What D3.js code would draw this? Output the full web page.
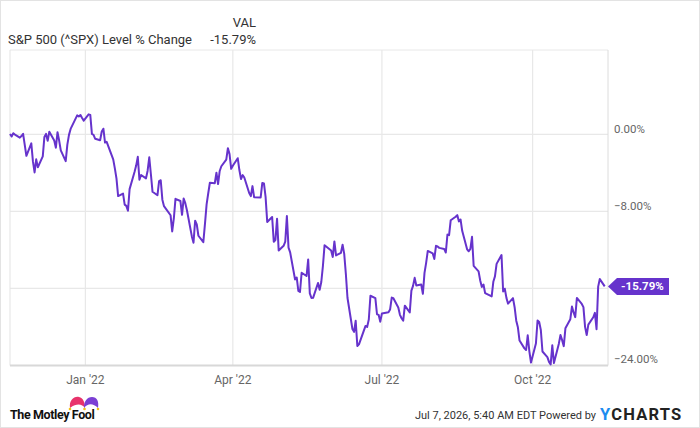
<!DOCTYPE html>
<html>
<head>
<meta charset="utf-8">
<script src="https://cdn.jsdelivr.net/npm/d3@7"></script>
<style>
  body { margin: 0; background: #fff; }
  svg { display: block; font-family: Roboto, "Noto Sans", sans-serif; }
</style>
</head>
<body>
<div id="chart"></div>
<script>
// S&P 500 level % change, trading days Nov 2021 - Nov 2022
const dates = [
  "2021-11-16","2021-11-17","2021-11-18","2021-11-19","2021-11-22","2021-11-23","2021-11-24","2021-11-26","2021-11-29","2021-11-30",
  "2021-12-01","2021-12-02","2021-12-03","2021-12-06","2021-12-07","2021-12-08","2021-12-09","2021-12-10","2021-12-13","2021-12-14",
  "2021-12-15","2021-12-16","2021-12-17","2021-12-20","2021-12-21","2021-12-22","2021-12-23","2021-12-27","2021-12-28","2021-12-29",
  "2021-12-30","2021-12-31",
  "2022-01-03","2022-01-04","2022-01-05","2022-01-06","2022-01-07","2022-01-10","2022-01-11","2022-01-12","2022-01-13","2022-01-14",
  "2022-01-18","2022-01-19","2022-01-20","2022-01-21","2022-01-24","2022-01-25","2022-01-26","2022-01-27","2022-01-28","2022-01-31",
  "2022-02-01","2022-02-02","2022-02-03","2022-02-04","2022-02-07","2022-02-08","2022-02-09","2022-02-10","2022-02-11","2022-02-14",
  "2022-02-15","2022-02-16","2022-02-17","2022-02-18","2022-02-22","2022-02-23","2022-02-24","2022-02-25","2022-02-28",
  "2022-03-01","2022-03-02","2022-03-03","2022-03-04","2022-03-07","2022-03-08","2022-03-09","2022-03-10","2022-03-11","2022-03-14",
  "2022-03-15","2022-03-16","2022-03-17","2022-03-18","2022-03-21","2022-03-22","2022-03-23","2022-03-24","2022-03-25","2022-03-28",
  "2022-03-29","2022-03-30","2022-03-31",
  "2022-04-01","2022-04-04","2022-04-05","2022-04-06","2022-04-07","2022-04-08","2022-04-11","2022-04-12","2022-04-13","2022-04-14",
  "2022-04-18","2022-04-19","2022-04-20","2022-04-21","2022-04-22","2022-04-25","2022-04-26","2022-04-27","2022-04-28","2022-04-29",
  "2022-05-02","2022-05-03","2022-05-04","2022-05-05","2022-05-06","2022-05-09","2022-05-10","2022-05-11","2022-05-12","2022-05-13",
  "2022-05-16","2022-05-17","2022-05-18","2022-05-19","2022-05-20","2022-05-23","2022-05-24","2022-05-25","2022-05-26","2022-05-27",
  "2022-05-31",
  "2022-06-01","2022-06-02","2022-06-03","2022-06-06","2022-06-07","2022-06-08","2022-06-09","2022-06-10","2022-06-13","2022-06-14",
  "2022-06-15","2022-06-16","2022-06-17","2022-06-21","2022-06-22","2022-06-23","2022-06-24","2022-06-27","2022-06-28","2022-06-29",
  "2022-06-30",
  "2022-07-01","2022-07-05","2022-07-06","2022-07-07","2022-07-08","2022-07-11","2022-07-12","2022-07-13","2022-07-14","2022-07-15",
  "2022-07-18","2022-07-19","2022-07-20","2022-07-21","2022-07-22","2022-07-25","2022-07-26","2022-07-27","2022-07-28","2022-07-29",
  "2022-08-01","2022-08-02","2022-08-03","2022-08-04","2022-08-05","2022-08-08","2022-08-09","2022-08-10","2022-08-11","2022-08-12",
  "2022-08-15","2022-08-16","2022-08-17","2022-08-18","2022-08-19","2022-08-22","2022-08-23","2022-08-24","2022-08-25","2022-08-26",
  "2022-08-29","2022-08-30","2022-08-31",
  "2022-09-01","2022-09-02","2022-09-06","2022-09-07","2022-09-08","2022-09-09","2022-09-12","2022-09-13","2022-09-14","2022-09-15",
  "2022-09-16","2022-09-19","2022-09-20","2022-09-21","2022-09-22","2022-09-23","2022-09-26","2022-09-27","2022-09-28","2022-09-29",
  "2022-09-30",
  "2022-10-03","2022-10-04","2022-10-05","2022-10-06","2022-10-07","2022-10-10","2022-10-11","2022-10-12","2022-10-13","2022-10-14",
  "2022-10-17","2022-10-18","2022-10-19","2022-10-20","2022-10-21","2022-10-24","2022-10-25","2022-10-26","2022-10-27","2022-10-28",
  "2022-10-31",
  "2022-11-01","2022-11-02","2022-11-03","2022-11-04","2022-11-07","2022-11-08","2022-11-09","2022-11-10","2022-11-11","2022-11-14"
];

const pctChange = [
  0.03,-0.23,0.11,-0.03,-0.35,-0.18,0.05,-2.23,-0.94,-2.82,
  -3.96,-2.60,-3.42,-2.29,-0.27,0.04,-0.68,0.27,-0.65,-1.39,
  0.22,-0.65,-1.67,-2.79,-1.07,-0.06,0.56,1.96,1.85,2.00,
  1.69,1.42,
  2.07,2.01,0.03,-0.07,-0.47,-0.62,0.29,0.58,-0.86,-0.78,
  -2.60,-3.54,-4.61,-6.41,-6.15,-7.30,-7.43,-7.93,-5.69,-3.91,
  -3.25,-2.34,-4.72,-4.23,-4.58,-3.78,-2.39,-4.15,-5.97,-6.33,
  -4.86,-4.77,-6.79,-7.46,-8.40,-10.08,-8.74,-6.70,-6.92,
  -8.36,-6.66,-7.15,-7.88,-10.60,-11.25,-8.97,-9.36,-10.53,-11.20,
  -9.30,-7.27,-6.12,-5.03,-5.07,-3.99,-5.17,-3.81,-3.32,-2.63,
  -1.44,-2.06,-3.59,
  -3.27,-2.48,-3.71,-4.64,-4.24,-4.49,-6.10,-6.42,-5.38,-6.53,
  -6.55,-5.05,-5.10,-6.50,-9.10,-8.58,-11.15,-10.97,-8.76,-12.07,
  -11.57,-11.15,-8.49,-11.76,-12.26,-15.07,-14.86,-16.26,-16.37,-14.37,
  -14.71,-12.99,-16.51,-16.99,-16.98,-15.44,-16.13,-15.33,-13.65,-11.51,
  -12.07,
  -12.73,-11.12,-12.57,-12.30,-11.46,-12.42,-14.50,-16.99,-20.21,-20.51,
  -19.35,-21.97,-21.80,-19.89,-19.99,-19.23,-16.76,-17.01,-18.68,-18.74,
  -19.45,
  -18.60,-18.47,-18.18,-16.95,-17.02,-17.98,-18.74,-19.10,-19.34,-17.79,
  -18.48,-16.23,-15.73,-14.90,-15.70,-15.59,-16.56,-14.38,-13.34,-12.11,
  -12.36,-12.94,-11.58,-11.65,-11.79,-11.90,-12.27,-10.41,-10.47,-8.92,
  -8.56,-8.39,-9.05,-8.84,-10.02,-11.94,-12.14,-11.89,-10.64,-13.65,
  -14.23,-15.18,-15.84,
  -15.59,-16.49,-16.83,-15.31,-14.75,-13.45,-12.53,-16.31,-16.03,-16.98,
  -17.58,-17.01,-17.95,-19.35,-20.03,-21.41,-22.22,-22.39,-20.86,-22.53,
  -23.70,
  -21.72,-19.33,-19.49,-20.32,-22.55,-23.13,-23.63,-23.88,-21.91,-23.75,
  -21.73,-20.84,-21.37,-21.99,-20.14,-19.19,-17.88,-18.49,-18.98,-16.99,
  -17.61,
  -17.94,-19.99,-20.84,-19.76,-18.99,-18.54,-20.23,-15.81,-15.03,-15.79
];

const xTickDates = ["2022-01-01","2022-04-01","2022-07-01","2022-10-01"];
const xTickLabels = ["Jan '22","Apr '22","Jul '22","Oct '22"];
const yTicks = [0, -8, -16, -24];
const lastLabel = "-15.79%";

const W = 700, H = 428;
const plot = { left: 10, right: 608, top: 50, bottom: 365.5 };
const purple = "#6633cc";

const parse = d3.timeParse("%Y-%m-%d");
const data = dates.map((d, i) => ({ date: parse(d), v: pctChange[i] }));

const x = d3.scaleTime()
  .domain([parse("2021-11-16"), parse("2022-11-16")])
  .range([plot.left, plot.right]);

const y = d3.scaleLinear()
  .domain([-24, 8.75])
  .range([plot.bottom, plot.top]);

const svg = d3.select("#chart").append("svg")
  .attr("width", W)
  .attr("height", H);

// outer frame
svg.append("rect")
  .attr("x", 0.5).attr("y", 0.5)
  .attr("width", W - 1).attr("height", H - 1)
  .attr("fill", "none").attr("stroke", "#e3e3e3");

// header
svg.append("text").attr("x", 8).attr("y", 44)
  .attr("font-size", 13).attr("fill", "#333")
  .text("S&P 500 (^SPX) Level % Change");
svg.append("text").attr("x", 256).attr("y", 27)
  .attr("text-anchor", "end").attr("font-size", 13).attr("fill", "#333")
  .text("VAL");
svg.append("text").attr("x", 256).attr("y", 44)
  .attr("text-anchor", "end").attr("font-size", 13).attr("fill", "#333")
  .text(lastLabel);

// grid
const grid = svg.append("g");
grid.selectAll(".hg").data(yTicks.filter(t => t !== -24)).enter().append("line")
  .attr("x1", plot.left).attr("x2", plot.right)
  .attr("y1", d => y(d)).attr("y2", d => y(d))
  .attr("stroke", "#e8e8e8").attr("stroke-width", 1.2);
grid.append("line")
  .attr("x1", plot.left).attr("x2", plot.right)
  .attr("y1", plot.top).attr("y2", plot.top)
  .attr("stroke", "#e8e8e8");
grid.selectAll(".vg").data(xTickDates).enter().append("line")
  .attr("x1", d => x(parse(d))).attr("x2", d => x(parse(d)))
  .attr("y1", plot.top).attr("y2", plot.bottom)
  .attr("stroke", "#e8e8e8").attr("stroke-width", 1.2);
grid.append("line")
  .attr("x1", plot.left).attr("x2", plot.left)
  .attr("y1", plot.top).attr("y2", plot.bottom)
  .attr("stroke", "#e3e3e3");
grid.append("line")
  .attr("x1", plot.right).attr("x2", plot.right)
  .attr("y1", plot.top).attr("y2", plot.bottom)
  .attr("stroke", "#dcdcdc");
grid.append("line")
  .attr("x1", plot.left).attr("x2", plot.right)
  .attr("y1", plot.bottom).attr("y2", plot.bottom)
  .attr("stroke", "#d8d8d8").attr("stroke-width", 2);

// last value position (its tag hides any axis label it covers)
const ty = y(pctChange[pctChange.length - 1]);

// y labels
svg.selectAll(".yl").data(yTicks.filter(t => Math.abs(y(t) - ty) > 14)).enter().append("text")
  .attr("x", 614)
  .attr("y", d => Math.min(y(d) - 1, 363))
  .attr("font-size", 11.5).attr("fill", "#666")
  .text(d => d3.format(".2f")(d) + "%");

// x labels
svg.selectAll(".xl").data(xTickDates).enter().append("text")
  .attr("x", d => x(parse(d)))
  .attr("y", 384)
  .attr("text-anchor", "middle")
  .attr("font-size", 12).attr("fill", "#666")
  .text((d, i) => xTickLabels[i]);

// line
const line = d3.line().x(d => x(d.date)).y(d => y(d.v));
svg.append("path").datum(data)
  .attr("d", line)
  .attr("fill", "none")
  .attr("stroke", purple)
  .attr("stroke-width", 2)
  .attr("stroke-linejoin", "round");

// last value tag
svg.append("path")
  .attr("d", `M608,${ty} L617,${ty - 8.5} L669,${ty - 8.5} L669,${ty + 8.5} L617,${ty + 8.5} Z`)
  .attr("fill", purple);
svg.append("text").attr("x", 621).attr("y", ty + 4)
  .attr("font-size", 11.5).attr("font-weight", "bold").attr("fill", "#fff")
  .text(lastLabel);

// footer: Motley Fool
const logo = svg.append("g");
logo.append("path")
  .attr("d", "M70,408 C69,400 74,396 79,397 C83,398 85,402 85,408 C82,404 77,403 70,408 Z")
  .attr("fill", "#e8336b");
logo.append("path")
  .attr("d", "M84,408 C84,401 87,397 92,397 C97,397 99,401 98,408 C93,403 88,403 84,408 Z")
  .attr("fill", "#7b3fd4");
logo.selectAll("circle").data([70, 84.5, 98]).enter().append("circle")
  .attr("cx", d => d).attr("cy", 409).attr("r", 1.3).attr("fill", "#f2c318");
svg.append("text").attr("x", 10).attr("y", 419)
  .attr("font-size", 12.5).attr("font-weight", "bold").attr("fill", "#111")
  .attr("letter-spacing", -0.4)
  .text("The Motley Fool");

// footer: timestamp and YCharts
svg.append("text").attr("x", 596).attr("y", 419)
  .attr("text-anchor", "end").attr("font-size", 11).attr("fill", "#333")
  .text("Jul 7, 2026, 5:40 AM EDT Powered by");
const yc = svg.append("text").attr("x", 600).attr("y", 420)
  .attr("font-size", 16.5).attr("font-weight", "bold").attr("letter-spacing", 1.2);
yc.append("tspan").attr("fill", "#1c8cf0").text("Y");
yc.append("tspan").attr("fill", "#222").text("CHARTS");
</script>
</body>
</html>
